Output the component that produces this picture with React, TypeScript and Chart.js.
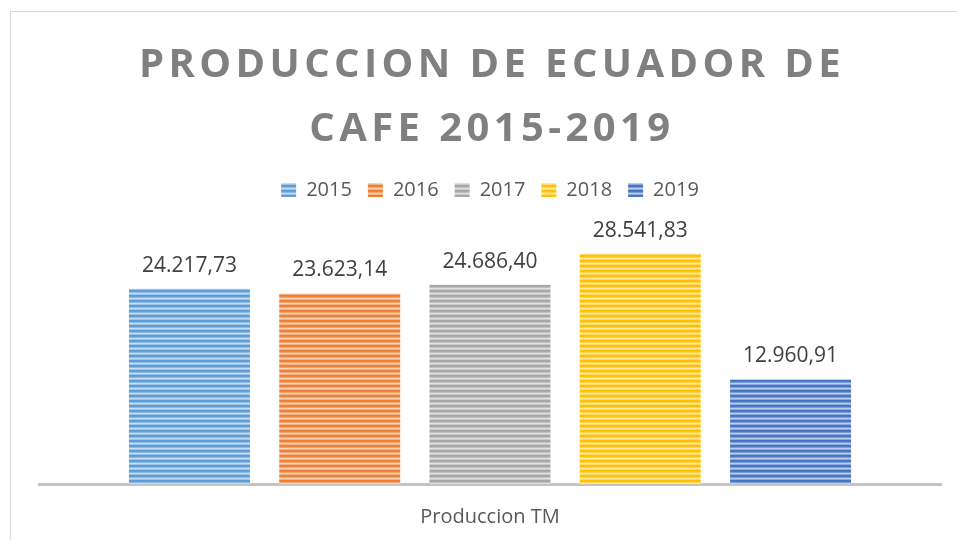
import React, { useEffect, useRef } from "react";
import { Chart, registerables } from "chart.js";

Chart.register(...registerables);

const categories = ["Produccion TM"];
const seriesNames = ["2015", "2016", "2017", "2018", "2019"];
const seriesValues = [24217.73, 23623.14, 24686.4, 28541.83, 12960.91];
const seriesColors = ["#5B9BD5", "#ED7D31", "#A5A5A5", "#FFC000", "#4472C4"];
const titleLines = ["PRODUCCION DE ECUADOR DE", "CAFE 2015-2019"];
const yMax = 30000;

function mix(hex: string, t: number): string {
  const n = parseInt(hex.slice(1), 16);
  const r = (n >> 16) & 255, g = (n >> 8) & 255, b = n & 255;
  const m = (c: number) => Math.round(c + (255 - c) * t);
  return `rgb(${m(r)},${m(g)},${m(b)})`;
}

function stripe(hex: string): CanvasPattern | string {
  const c = document.createElement("canvas");
  c.width = 8;
  c.height = 5;
  const x = c.getContext("2d");
  if (!x) return hex;
  const rows = [mix(hex, 0), mix(hex, 0.05), mix(hex, 0.3), mix(hex, 0.65), mix(hex, 0.4)];
  rows.forEach((col, i) => {
    x.fillStyle = col;
    x.fillRect(0, i, 8, 1);
  });
  return x.createPattern(c, "repeat") || hex;
}

function fmt(v: number): string {
  const [i, d] = v.toFixed(2).split(".");
  return i.replace(/\B(?=(\d{3})+(?!\d))/g, ".") + "," + d;
}

const frame = {
  id: "frame",
  beforeDraw(chart: any) {
    const ctx = chart.ctx;
    ctx.save();
    ctx.fillStyle = "#ffffff";
    ctx.fillRect(0, 0, chart.width, chart.height);
    ctx.strokeStyle = "#d9d9d9";
    ctx.lineWidth = 1;
    ctx.strokeRect(10.5, 11.5, chart.width + 20, chart.height + 20);
    ctx.restore();
  },
};

const bigTitle = {
  id: "bigTitle",
  afterDraw(chart: any) {
    const ctx = chart.ctx;
    ctx.save();
    ctx.font = "bold 40px 'Open Sans'";
    (ctx as any).letterSpacing = "4.4px";
    ctx.fillStyle = "#808080";
    ctx.textAlign = "center";
    ctx.textBaseline = "alphabetic";
    const cx = 490 + 2;
    ctx.fillText(titleLines[0], cx, 77);
    ctx.fillText(titleLines[1], cx, 141);
    ctx.restore();
  },
};

const valueLabels = {
  id: "valueLabels",
  afterDatasetsDraw(chart: any) {
    const ctx = chart.ctx;
    ctx.save();
    ctx.font = "21px 'Open Sans'";
    ctx.fillStyle = "#404040";
    ctx.textAlign = "center";
    ctx.textBaseline = "alphabetic";
    chart.data.datasets.forEach((ds: any, i: number) => {
      const meta = chart.getDatasetMeta(i);
      meta.data.forEach((el: any, j: number) => {
        ctx.fillText(fmt(ds.data[j]), el.x, el.y - 17);
      });
    });
    ctx.restore();
  },
};

const legendSpacer = {
  id: "legendSpacer",
  beforeInit(chart: any) {
    const lg = chart.legend;
    if (!lg) return;
    const fit = lg.fit;
    lg.fit = function () {
      fit.call(this);
      this.height += 32;
    };
  },
};

export default function App() {
  const ref = useRef<HTMLCanvasElement | null>(null);
  useEffect(() => {
    if (!ref.current) return;
    const chart = new Chart(ref.current, {
      type: "bar",
      data: {
        labels: categories,
        datasets: seriesNames.map((name, i) => ({
          label: name,
          data: [seriesValues[i]],
          backgroundColor: stripe(seriesColors[i]) as any,
          borderWidth: 0,
          categoryPercentage: 0.833,
          barPercentage: 0.805,
        })),
      },
      options: {
        animation: false,
        responsive: false,
        devicePixelRatio: 1,
        layout: { padding: { top: 164, left: 39, right: 16, bottom: 10 } },
        plugins: {
          title: { display: false },
          tooltip: { enabled: false },
          legend: {
            display: true,
            position: "top",
            labels: {
              font: { family: "'Open Sans'", size: 20 },
              color: "#595959",
              boxWidth: 15,
              boxHeight: 14,
              padding: 16,
            },
          },
        },
        scales: {
          y: { display: false, min: 0, max: yMax },
          x: {
            grid: { display: false, drawTicks: false },
            border: { display: true, color: "#c4c4c4", width: 3 },
            ticks: {
              font: { family: "'Open Sans'", size: 20 },
              color: "#595959",
              padding: 21,
            },
            afterFit: (scale: any) => {
              scale.height = 46;
            },
          },
        },
      },
      plugins: [frame, legendSpacer, valueLabels, bigTitle],
    });
    return () => chart.destroy();
  }, []);
  return (
    <div style={{ position: "absolute", left: 0, top: 0, width: 957, height: 540 }}>
      <canvas ref={ref} width={957} height={540} />
    </div>
  );
}
